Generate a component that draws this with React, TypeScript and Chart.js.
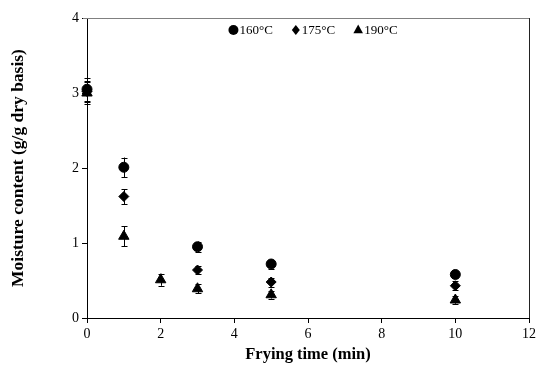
import React, { useEffect, useRef } from "react";
import { Chart, registerables } from "chart.js";

Chart.register(...registerables);

const seriesLabels = ["160°C", "175°C", "190°C"];
const pointStyles = ["circle", "rectRot", "triangle"];

const time160 = [0, 1, 3, 5, 10];
const moist160 = [3.05, 2.01, 0.95, 0.72, 0.58];
const err160 = [0.15, 0.13, 0.07, 0.06, 0.04];

const time175 = [0, 1, 3, 5, 10];
const moist175 = [3.02, 1.62, 0.64, 0.48, 0.43];
const err175 = [0.14, 0.1, 0.05, 0.06, 0.06];

const time190 = [0, 1, 2, 3, 5, 10];
const moist190 = [3.0, 1.09, 0.51, 0.39, 0.31, 0.24];
const err190 = [0.15, 0.13, 0.08, 0.06, 0.05, 0.05];

const xTicks = [0, 2, 4, 6, 8, 10, 12];
const yTicks = [0, 1, 2, 3, 4];

const FONT = "'Liberation Serif', 'Times New Roman', serif";

const errorBarPlugin = {
  id: "errorBars",
  beforeDatasetsDraw(chart: any) {
    const { ctx } = chart;
    const xs = chart.scales.x;
    const ys = chart.scales.y;
    ctx.save();
    ctx.strokeStyle = "#000";
    ctx.lineWidth = 1;
    chart.data.datasets.forEach((ds: any) => {
      ds.data.forEach((p: any, i: number) => {
        const e = ds.errors[i];
        const px = Math.round(xs.getPixelForValue(p.x)) + 0.5;
        const y1 = ys.getPixelForValue(p.y + e);
        const y2 = ys.getPixelForValue(p.y - e);
        ctx.beginPath();
        ctx.moveTo(px, y1);
        ctx.lineTo(px, y2);
        ctx.moveTo(px - 3, Math.round(y1) + 0.5);
        ctx.lineTo(px + 3, Math.round(y1) + 0.5);
        ctx.moveTo(px - 3, Math.round(y2) + 0.5);
        ctx.lineTo(px + 3, Math.round(y2) + 0.5);
        ctx.stroke();
      });
    });
    ctx.restore();
  },
};

const framePlugin = {
  id: "frame",
  afterDraw(chart: any) {
    const { ctx, chartArea } = chart;
    ctx.save();
    ctx.lineWidth = 1;
    ctx.strokeStyle = "#808080";
    ctx.beginPath();
    ctx.moveTo(chartArea.left - 4, Math.round(chartArea.top) + 0.5);
    ctx.lineTo(chartArea.right, Math.round(chartArea.top) + 0.5);
    ctx.stroke();
    ctx.strokeStyle = "#222";
    ctx.beginPath();
    ctx.moveTo(Math.round(chartArea.right) + 0.5, chartArea.top);
    ctx.lineTo(Math.round(chartArea.right) + 0.5, chartArea.bottom);
    ctx.stroke();
    ctx.restore();
  },
};

const legendPlugin = {
  id: "inlineLegend",
  afterDraw(chart: any) {
    const { ctx, chartArea } = chart;
    ctx.save();
    ctx.font = `13px ${FONT}`;
    ctx.textBaseline = "middle";
    ctx.fillStyle = "#000";
    const markerW = 10;
    const gapIn = 1;
    const gapOut = 18;
    const widths = chart.data.datasets.map((ds: any) => ctx.measureText(ds.label).width);
    const total =
      widths.reduce((a: number, b: number) => a + b, 0) +
      widths.length * (markerW + gapIn) +
      (widths.length - 1) * gapOut;
    let x = (chartArea.left + chartArea.right) / 2 + 5 - total / 2;
    const y = chartArea.top + 12;
    chart.data.datasets.forEach((ds: any, i: number) => {
      const style = ds.pointStyle;
      const r = style === "triangle" ? 5.5 : 5;
      Chart.helpers?.drawPoint
        ? null
        : null;
      (window as any).__drawPoint(ctx, { pointStyle: style, radius: r, borderWidth: 1 }, x + markerW / 2, y);
      ctx.fillStyle = "#000";
      ctx.fillText(ds.label, x + markerW + gapIn, y + 1);
      x += markerW + gapIn + widths[i] + gapOut;
    });
    ctx.restore();
  },
};

function mk(label: string, style: string, xs: number[], ys: number[], es: number[]) {
  return {
    label,
    data: xs.map((x, i) => ({ x, y: ys[i] })),
    errors: es,
    pointStyle: style,
    pointRadius: style === "triangle" ? 6 : 5,
    backgroundColor: "#000",
    borderColor: "#000",
    borderWidth: 1,
    showLine: false,
    clip: false,
  };
}

function drawMarker(ctx: CanvasRenderingContext2D, opts: any, x: number, y: number) {
  const r = opts.radius;
  ctx.save();
  ctx.fillStyle = "#000";
  ctx.strokeStyle = "#000";
  ctx.beginPath();
  if (opts.pointStyle === "circle") {
    ctx.arc(x, y, r, 0, Math.PI * 2);
  } else if (opts.pointStyle === "rectRot") {
    ctx.moveTo(x, y - r);
    ctx.lineTo(x + r * 0.8, y);
    ctx.lineTo(x, y + r);
    ctx.lineTo(x - r * 0.8, y);
    ctx.closePath();
  } else {
    ctx.moveTo(x, y - r);
    ctx.lineTo(x + r * 0.87, y + r * 0.6);
    ctx.lineTo(x - r * 0.87, y + r * 0.6);
    ctx.closePath();
  }
  ctx.fill();
  ctx.restore();
}
(window as any).__drawPoint = drawMarker;

export default function App() {
  const ref = useRef<HTMLCanvasElement>(null);
  useEffect(() => {
    const chart = new Chart(ref.current as HTMLCanvasElement, {
      type: "scatter",
      data: {
        datasets: [
          mk(seriesLabels[0], pointStyles[0], time160, moist160, err160),
          mk(seriesLabels[1], pointStyles[1], time175, moist175, err175),
          mk(seriesLabels[2], pointStyles[2], time190, moist190, err190),
        ] as any,
      },
      options: {
        responsive: false,
        animation: false,
        devicePixelRatio: 1,
        layout: { padding: { left: 0, top: 18, right: 8, bottom: 0 } },
        plugins: {
          tooltip: { enabled: false },
          legend: { display: false },
        },
        scales: {
          x: {
            type: "linear",
            min: 0,
            max: 12,
            afterFit: (s: any) => {
              s.height = 51;
            },
            afterBuildTicks: (s: any) => {
              s.ticks = xTicks.map((v) => ({ value: v }));
            },
            ticks: { color: "#000", font: { family: FONT, size: 14 }, padding: 3 },
            grid: { drawOnChartArea: false, drawTicks: true, tickLength: 5, color: "#000" },
            border: { display: true, color: "#000", width: 1 },
            title: {
              display: true,
              text: "Frying time (min)",
              color: "#000",
              font: { family: FONT, size: 16.5, weight: "bold" },
              padding: { top: 4, bottom: 4 },
            },
          },
          y: {
            type: "linear",
            min: 0,
            max: 4,
            afterFit: (s: any) => {
              s.width = 87;
            },
            afterBuildTicks: (s: any) => {
              s.ticks = yTicks.map((v) => ({ value: v }));
            },
            ticks: { color: "#000", font: { family: FONT, size: 14 }, padding: 3 },
            grid: { drawOnChartArea: false, drawTicks: true, tickLength: 5, color: "#000" },
            border: { display: true, color: "#000", width: 1 },
            title: {
              display: true,
              text: "Moisture content (g/g dry basis)",
              color: "#000",
              font: { family: FONT, size: 17.5, weight: "bold" },
              padding: { top: 8, bottom: 4 },
            },
          },
        },
      },
      plugins: [errorBarPlugin, framePlugin, legendPlugin],
    } as any);
    return () => chart.destroy();
  }, []);
  return (
    <div style={{ position: "absolute", left: 0, top: 0, width: 539, height: 369, background: "#fff" }}>
      <canvas ref={ref} width={539} height={369} />
    </div>
  );
}
